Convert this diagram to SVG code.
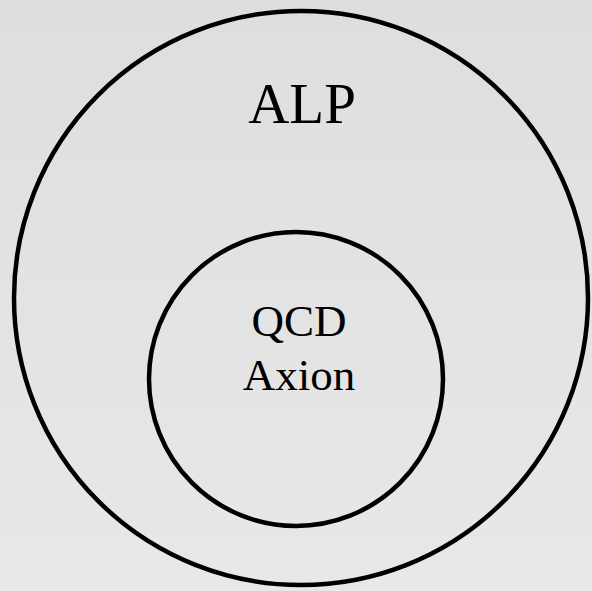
<svg xmlns="http://www.w3.org/2000/svg" width="592" height="591" viewBox="0 0 592 591">
<defs>
<linearGradient id="bg" x1="0" y1="0" x2="0" y2="1">
<stop offset="0" stop-color="#dedede"/>
<stop offset="1" stop-color="#e8e8e8"/>
</linearGradient>
<style>
.ring{fill:none;stroke:#000;stroke-width:4.5}
.lbl{font-family:"Liberation Serif","Times New Roman",serif;fill:#000;text-anchor:middle}
</style>
</defs>
<rect width="592" height="591" fill="url(#bg)"/>
<g id="alp">
<circle class="ring" cx="301" cy="298" r="287"/>
<text class="lbl" x="302" y="123" font-size="57">ALP</text>
</g>
<g id="qcd-axion">
<circle class="ring" cx="296" cy="379" r="147"/>
<text class="lbl" x="299" y="336" font-size="45">QCD</text>
<text class="lbl" x="299" y="390" font-size="45">Axion</text>
</g>
<g id="connectors"></g>
</svg>
